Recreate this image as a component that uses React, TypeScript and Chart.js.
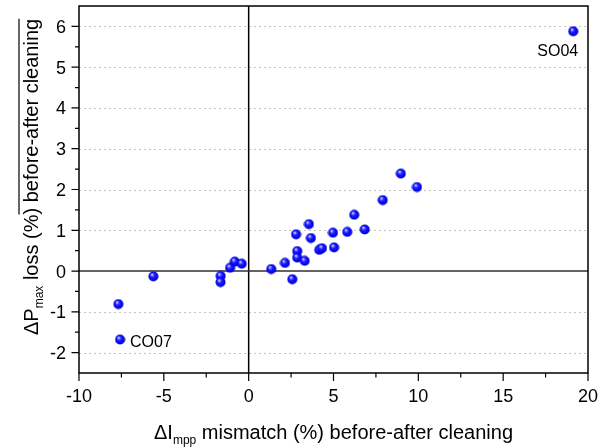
import React, { useEffect, useRef } from 'react';
import { Chart, registerables } from 'chart.js';

Chart.register(...registerables);

// ---- data ----
const mismatchValues = [
  -7.68, -7.58, -5.62, -1.65, -1.66, -1.1, -0.82, -0.41, 1.33, 2.14, 2.57, 2.79, 2.86, 2.86,
  3.3, 3.55, 3.67, 4.16, 4.32, 4.97, 5.03, 5.81, 6.22, 6.84, 7.9, 8.97, 9.92, 19.13,
];
const lossValues = [
  -0.81, -1.68, -0.13, -0.12, -0.27, 0.08, 0.23, 0.18, 0.05, 0.2, -0.2, 0.9, 0.49, 0.33,
  0.25, 1.15, 0.81, 0.52, 0.56, 0.94, 0.58, 0.96, 1.38, 1.02, 1.74, 2.39, 2.06, 5.88,
];
const pointNames = [
  '', 'CO07', '', '', '', '', '', '', '', '', '', '', '', '',
  '', '', '', '', '', '', '', '', '', '', '', '', '', 'SO04',
];
const xTicks = [-10, -5, 0, 5, 10, 15, 20];
const xMinorTicks = [-7.5, -2.5, 2.5, 7.5, 12.5, 17.5];
const yTicks = [-2, -1, 0, 1, 2, 3, 4, 5, 6];
const yMinorTicks = [-1.5, -0.5, 0.5, 1.5, 2.5, 3.5, 4.5, 5.5];
const xTitleMain = 'ΔI';
const xTitleSub = 'mpp';
const xTitleRest = ' mismatch (%) before-after cleaning';
const yTitleMain = 'ΔP';
const yTitleSub = 'max';
const yTitleRest = ' loss (%) before-after cleaning';
const yTitleOverlineFrom = ' loss (%';

const FONT = '"Liberation Sans", Arial, sans-serif';

function makeSphere(): HTMLCanvasElement {
  const c = document.createElement('canvas');
  c.width = 11;
  c.height = 11;
  const g = c.getContext('2d')!;
  const grad = g.createRadialGradient(4.0, 3.6, 0.2, 5.5, 5.5, 5.6);
  grad.addColorStop(0, '#ffffff');
  grad.addColorStop(0.15, '#8080ff');
  grad.addColorStop(0.4, '#1a1aff');
  grad.addColorStop(0.8, '#0000e8');
  grad.addColorStop(1, '#0000a8');
  g.fillStyle = grad;
  g.beginPath();
  g.arc(5.5, 5.5, 5.0, 0, Math.PI * 2);
  g.fill();
  return c;
}

const customDraw = {
  id: 'customDraw',
  beforeDatasetsDraw(chart: any) {
    const { ctx, chartArea: a, scales } = chart;
    const x = scales.x;
    const y = scales.y;
    ctx.save();
    // dotted horizontal grid
    ctx.strokeStyle = '#c4c4c4';
    ctx.lineWidth = 1;
    ctx.setLineDash([2, 3]);
    for (const v of yTicks) {
      if (v === 0) continue;
      const py = Math.round(y.getPixelForValue(v)) + 0.5;
      ctx.beginPath();
      ctx.moveTo(a.left, py);
      ctx.lineTo(a.right, py);
      ctx.stroke();
    }
    ctx.setLineDash([]);
    // zero lines
    ctx.lineWidth = 1.5;
    ctx.strokeStyle = '#000';
    const x0 = x.getPixelForValue(0);
    ctx.beginPath();
    ctx.moveTo(x0, a.top);
    ctx.lineTo(x0, a.bottom);
    ctx.stroke();
    ctx.strokeStyle = '#303030';
    const y0 = y.getPixelForValue(0);
    ctx.beginPath();
    ctx.moveTo(a.left, y0);
    ctx.lineTo(a.right, y0);
    ctx.stroke();
    ctx.restore();
  },
  afterDatasetsDraw(chart: any) {
    const { ctx, chartArea: a, scales } = chart;
    const x = scales.x;
    const y = scales.y;
    ctx.save();
    // frame
    ctx.strokeStyle = '#000';
    ctx.lineWidth = 1.5;
    ctx.strokeRect(a.left, a.top, a.right - a.left, a.bottom - a.top);
    // ticks
    ctx.lineWidth = 1.2;
    ctx.beginPath();
    for (const v of xTicks) {
      const px = x.getPixelForValue(v);
      ctx.moveTo(px, a.bottom);
      ctx.lineTo(px, a.bottom + 8);
    }
    for (const v of xMinorTicks) {
      const px = x.getPixelForValue(v);
      ctx.moveTo(px, a.bottom);
      ctx.lineTo(px, a.bottom + 4.5);
    }
    for (const v of yTicks) {
      const py = y.getPixelForValue(v);
      ctx.moveTo(a.left, py);
      ctx.lineTo(a.left - 7.5, py);
    }
    for (const v of yMinorTicks) {
      const py = y.getPixelForValue(v);
      ctx.moveTo(a.left, py);
      ctx.lineTo(a.left - 4, py);
    }
    ctx.stroke();
    // tick labels
    ctx.fillStyle = '#000';
    ctx.font = `18px ${FONT}`;
    ctx.textBaseline = 'alphabetic';
    ctx.textAlign = 'center';
    for (const v of xTicks) {
      ctx.fillText(String(v), x.getPixelForValue(v), a.bottom + 29);
    }
    ctx.textAlign = 'right';
    for (const v of yTicks) {
      ctx.fillText(String(v), a.left - 13, y.getPixelForValue(v) + 6.5);
    }
    // x title
    const mainFont = `20px ${FONT}`;
    const subFont = `12px ${FONT}`;
    ctx.textAlign = 'left';
    ctx.font = mainFont;
    const wMain = ctx.measureText(xTitleMain).width;
    const wRest = ctx.measureText(xTitleRest).width;
    ctx.font = subFont;
    const wSub = ctx.measureText(xTitleSub).width;
    const cx = (a.left + a.right) / 2;
    let tx = cx - (wMain + wSub + wRest) / 2;
    const tb = 439;
    ctx.font = mainFont;
    ctx.fillText(xTitleMain, tx, tb);
    tx += wMain;
    ctx.font = subFont;
    ctx.fillText(xTitleSub, tx, tb + 5);
    tx += wSub;
    ctx.font = mainFont;
    ctx.fillText(xTitleRest, tx, tb);
    // y title (rotated)
    ctx.save();
    ctx.translate(38, 335);
    ctx.rotate(-Math.PI / 2);
    let ty = 0;
    ctx.font = mainFont;
    const ywMain = ctx.measureText(yTitleMain).width;
    ctx.fillText(yTitleMain, ty, 0);
    ty += ywMain;
    ctx.font = subFont;
    const ywSub = ctx.measureText(yTitleSub).width;
    ctx.fillText(yTitleSub, ty, 5);
    ty += ywSub;
    ctx.font = mainFont;
    ctx.fillText(yTitleRest, ty, 0);
    const over0 = ty + ctx.measureText(yTitleOverlineFrom).width;
    const over1 = ty + ctx.measureText(yTitleRest).width;
    ctx.lineWidth = 1.2;
    ctx.beginPath();
    ctx.moveTo(over0, -19);
    ctx.lineTo(over1, -19);
    ctx.stroke();
    ctx.restore();
    // point labels
    ctx.font = `16px ${FONT}`;
    pointNames.forEach((name, i) => {
      if (!name) return;
      const px = x.getPixelForValue(mismatchValues[i]);
      const py = y.getPixelForValue(lossValues[i]);
      if (mismatchValues[i] > 0) {
        ctx.textAlign = 'right';
        ctx.fillText(name, px + 5, py + 25);
      } else {
        ctx.textAlign = 'left';
        ctx.fillText(name, px + 10, py + 7);
      }
    });
    ctx.restore();
  },
};

export default function App() {
  const ref = useRef<HTMLCanvasElement | null>(null);
  useEffect(() => {
    if (!ref.current) return;
    const sphere = makeSphere();
    const chart = new Chart(ref.current, {
      type: 'scatter',
      data: {
        datasets: [
          {
            data: mismatchValues.map((v, i) => ({ x: v, y: lossValues[i] })),
            pointStyle: sphere as any,
            pointRadius: 5,
            pointHoverRadius: 5,
          },
        ],
      },
      options: {
        animation: false,
        responsive: false,
        events: [],
        layout: { padding: { left: 79, top: 6, right: 18, bottom: 75 } },
        plugins: { legend: { display: false }, tooltip: { enabled: false } },
        scales: {
          x: { type: 'linear', min: -10, max: 20, display: false },
          y: { type: 'linear', min: -2.5, max: 6.5, display: false },
        },
      },
      plugins: [customDraw],
    });
    return () => chart.destroy();
  }, []);
  return (
    <div style={{ position: 'fixed', left: 0, top: 0, width: 606, height: 448, background: '#fff' }}>
      <canvas ref={ref} width={606} height={448} style={{ display: 'block' }} />
    </div>
  );
}
